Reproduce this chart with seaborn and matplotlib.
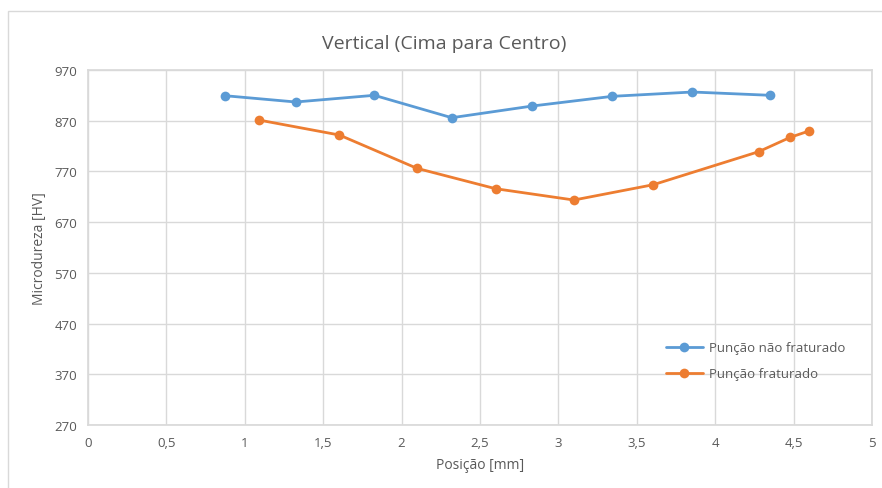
import pandas as pd
import seaborn as sns
import matplotlib.pyplot as plt
from matplotlib.patches import Rectangle

## Data
pos_nao = [0.874, 1.325, 1.826, 2.320, 2.834, 3.344, 3.854, 4.351]
hv_nao = [919.3, 906.9, 920.1, 875.9, 899.0, 918.1, 926.6, 920.1]

pos_frat = [1.089, 1.603, 2.098, 2.600, 3.099, 3.605, 4.277, 4.479, 4.598]
hv_frat = [871.4, 841.8, 776.1, 735.9, 713.6, 743.8, 808.9, 837.3, 849.7]

series_names = ['Punção não fraturado', 'Punção fraturado']
x_ticks = [0, 0.5, 1, 1.5, 2, 2.5, 3, 3.5, 4, 4.5, 5]
x_labels = ['0', '0,5', '1', '1,5', '2', '2,5', '3', '3,5', '4', '4,5', '5']
y_ticks = [270, 370, 470, 570, 670, 770, 870, 970]

df = pd.concat([
    pd.DataFrame({'pos': pos_nao, 'hv': hv_nao, 'serie': series_names[0]}),
    pd.DataFrame({'pos': pos_frat, 'hv': hv_frat, 'serie': series_names[1]}),
])

sns.set_theme(style='white')
plt.rcParams['font.family'] = ['Open Sans', 'DejaVu Sans']
txt = '#595959'
grid = '#D9D9D9'

fig = plt.figure(figsize=(8.82, 4.89), dpi=100)
ax = fig.add_axes([88/882, 1-426/489, 784/882, 355/489])

# outer chart border
fig.patches.append(Rectangle((8/882, -0.1), 1.2, 1.1 - 12/489,
                             transform=fig.transFigure, fill=False,
                             edgecolor=grid, linewidth=1.0))

sns.lineplot(data=df, x='pos', y='hv', hue='serie', ax=ax,
             palette=['#5B9BD5', '#ED7D31'], marker='o', markersize=7,
             markeredgewidth=0, linewidth=2, sort=False, estimator=None)

ax.set_xlim(0, 5)
ax.set_ylim(270, 970)
ax.set_xticks(x_ticks)
ax.set_xticklabels(x_labels)
ax.set_yticks(y_ticks)
ax.grid(True, color=grid, linewidth=1)
ax.set_axisbelow(True)
for s in ax.spines.values():
    s.set_color(grid)
ax.tick_params(colors=txt, labelsize=9.5, length=0, pad=8)

fig.text(444/882, 1-44/489, 'Vertical (Cima para Centro)', fontsize=14,
         color=txt, ha='center', va='center')
ax.set_xlabel('Posição [mm]', fontsize=10, color=txt, labelpad=6)
ax.set_ylabel('Microdureza [HV]', fontsize=10, color=txt, labelpad=5)

leg = ax.legend(loc='center left', bbox_to_anchor=(0.722, 0.181), frameon=False,
                fontsize=9.5, labelspacing=1.0, handlelength=2.8, handletextpad=0.5)
for t in leg.get_texts():
    t.set_color(txt)

plt.savefig('out.png', dpi=100)
